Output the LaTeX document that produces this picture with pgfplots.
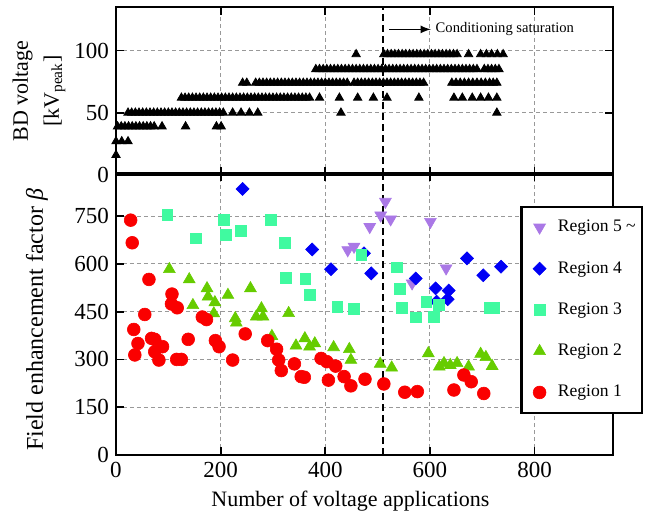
\documentclass[border=0pt]{standalone}
\usepackage{pgfplots}
\pgfplotsset{compat=1.18}
\usepackage{fontspec}
\setmainfont{Liberation Serif}

\definecolor{cR5}{RGB}{170,120,230}
\definecolor{cR4}{RGB}{0,0,245}
\definecolor{cR3}{RGB}{64,250,160}
\definecolor{cR2}{RGB}{102,204,0}
\definecolor{cR1}{RGB}{250,0,0}

\pgfplotsset{
 myaxis/.style={
  scale only axis, width=248.5pt, xmin=0, xmax=950,
  axis line style={line width=1pt},
  every tick/.style={line width=0.9pt, black},
  major tick length=4pt, tick align=inside,
  grid=major, grid style={dash pattern=on 2pt off 1.5pt, gray!80, line width=0.4pt},
  tick label style={font=\fontsize{11.5}{13}\selectfont},
  label style={font=\fontsize{11}{13}\selectfont},
  /pgf/number format/assume math mode=true,
  xtick={0,200,...,800},
  clip=false,
 },
 mk/.style={only marks, legend image code/.code={\path (0pt,0pt) (13pt,0pt); \draw[mark repeat=2,mark phase=2,##1] plot coordinates {(0pt,0pt) (6.5pt,0pt) (13pt,0pt)};}},
}

\begin{document}
\begin{tikzpicture}
% ---------------- bottom panel ----------------
\begin{axis}[myaxis, at={(0,0)}, anchor=south west, height=141pt,
  ymin=0, ymax=885, ytick={0,150,...,750},
  xlabel={Number of voltage applications},
  ylabel={Field enhancement factor \textit{β}},
  y label style={at={(axis description cs:-0.159,0.479)}, anchor=center, font=\fontsize{12}{14}\selectfont},
  x label style={xshift=-7pt},
  legend style={at={(1.0604,0.884)}, anchor=north east, draw=black, line width=1.2pt, fill=white,
    font=\fontsize{8.8}{10.5}\selectfont, row sep=9.3pt, inner xsep=2pt, inner ysep=4.6pt,
    cells={anchor=west}},
]
\addplot[mk, mark=triangle*, mark size=3.4pt, mark options={rotate=180, fill=cR5, draw=cR5, line width=0.3pt}, color=cR5]
coordinates {(443,643) (455,654) (485,716) (506,752) (515,795) (525,740) (566,539) (601,732) (631,586)};
\addlegendentry{\makebox[38pt][l]{Region 5 \textasciitilde}}
\addplot[mk, mark=square*, mark size=2.3pt, mark options={rotate=45, fill=cR4, draw=cR4, line width=0.3pt}, color=cR4]
coordinates {(242,835) (375,645) (411,583) (474,633) (488,570) (573,554) (611,523) (613,481) (634,489) (636,516) (671,617) (702,564) (736,591)};
\addlegendentry{Region 4}
\addplot[mk, mark=square*, mark size=2.7pt, mark options={fill=cR3, draw=cR3, line width=0.3pt}, color=cR3]
coordinates {(98,753) (153,680) (206,737) (210,690) (239,703) (296,737) (323,667) (324,557) (362,554) (370,504) (423,465) (454,460) (469,628) (536,589) (542,521) (547,462) (573,432) (593,481) (608,434) (617,471) (714,462) (722,463)};
\addlegendentry{Region 3}
\addplot[mk, mark=triangle*, mark size=3.4pt, mark options={fill=cR2, draw=cR2, line width=0.3pt}, color=cR2]
coordinates {(102,583) (140,551) (147,470) (174,523) (176,497) (187,444) (189,479) (214,502) (228,429) (230,415) (257,523) (268,434) (278,460) (281,434) (298,373) (330,445) (344,343) (361,366) (370,340) (380,350) (416,338) (446,332) (449,298) (505,286) (527,274) (597,319) (618,277) (627,288) (639,282) (652,288) (674,277) (697,317) (707,307) (719,279)};
\addlegendentry{Region 2}
\addplot[mk, mark=*, mark size=3.2pt, mark options={fill=cR1, draw=cR1, line width=0.3pt}, color=cR1]
coordinates {(28,737) (31,666) (34,394) (36,314) (42,350) (55,441) (63,551) (68,366) (74,363) (74,324) (82,298) (89,340) (106,474) (107,505) (116,300) (117,462) (125,300) (138,363) (165,433) (173,425) (190,359) (197,340) (223,298) (247,380) (290,359) (307,332) (311,298) (316,265) (341,286) (354,246) (360,244) (392,303) (403,293) (406,235) (420,279) (436,246) (449,217) (476,238) (512,223) (552,197) (576,199) (646,204) (665,251) (679,230) (703,193)};
\addlegendentry{Region 1}
\addplot[black, line width=1.2pt, dash pattern=on 3.5pt off 2pt, forget plot] coordinates {(510,0) (510,885)};
\end{axis}
% ---------------- top panel ----------------
\begin{axis}[myaxis, at={(0,140pt)}, anchor=south west, height=84pt,
  ymin=0, ymax=135, ytick={0,50,100}, xticklabels={},
  ylabel={BD voltage\\[2.5pt]{}[kV\textsubscript{peak}]},
  y label style={at={(axis description cs:-0.155,0.5)}, anchor=center, align=center, font=\fontsize{11}{13}\selectfont},
]
\addplot[only marks, mark=triangle*, mark size=2.4pt, black] coordinates {
(0,16)
(0,27) (11,27) (23,27)
(3,39) (10,39) (17,39) (24,39) (31,39) (38,39) (45,39) (52,39) (59,39) (66,39) (73,39) (88,39) (133,39) (192,39) (201,39)
(23,50) (30,50) (37,50) (44,50) (51,50) (58,50) (65,50) (72,50) (79,50) (86,50) (93,50) (100,50) (107,50) (114,50) (121,50) (128,50) (135,50) (142,50) (149,50) (156,50) (163,50) (170,50) (177,50) (184,50) (191,50) (198,50) (205,50) (223,50) (239,50) (255,50) (271,50) (430,50) (728,50)
(125,62) (132,62) (139,62) (146,62) (153,62) (160,62) (167,62) (174,62) (181,62) (188,62) (195,62) (202,62) (209,62) (216,62) (223,62) (230,62) (237,62) (244,62) (251,62) (258,62) (265,62) (272,62) (279,62) (286,62) (293,62) (300,62) (307,62) (314,62) (321,62) (328,62) (335,62) (342,62) (349,62) (356,62) (363,62) (370,62) (389,62) (427,62) (462,62) (492,62) (518,62) (579,62) (646,62) (662,62) (681,62) (697,62) (712,62) (728,62)
(242,74) (250,74) (267,74) (274,74) (281,74) (288,74) (295,74) (302,74) (309,74) (316,74) (323,74) (330,74) (337,74) (344,74) (351,74) (358,74) (365,74) (372,74) (379,74) (386,74) (393,74) (400,74) (407,74) (414,74) (421,74) (428,74) (435,74) (442,74) (455,74) (462,74) (469,74) (476,74) (483,74) (490,74) (497,74) (504,74) (511,74) (518,74) (525,74) (532,74) (539,74) (546,74) (553,74) (560,74) (567,74) (574,74) (581,74) (588,74) (642,74) (650,74) (658,74) (666,74) (674,74) (682,74) (690,74) (698,74) (706,74) (714,74) (721,74) (728,74)
(382,85) (389,85) (396,85) (403,85) (410,85) (417,85) (424,85) (431,85) (438,85) (445,85) (452,85) (459,85) (466,85) (473,85) (480,85) (487,85) (494,85) (501,85) (508,85) (515,85) (522,85) (529,85) (536,85) (543,85) (550,85) (557,85) (564,85) (571,85) (578,85) (585,85) (592,85) (599,85) (606,85) (613,85) (620,85) (627,85) (634,85) (641,85) (648,85) (655,85) (662,85) (669,85) (676,85) (683,85) (690,85) (704,85) (711,85) (718,85) (725,85) (732,85)
(459,97) (512,97) (519,97) (526,97) (533,97) (540,97) (547,97) (554,97) (561,97) (568,97) (575,97) (582,97) (589,97) (596,97) (603,97) (610,97) (617,97) (624,97) (631,97) (638,97) (645,97) (652,97) (674,97) (697,97) (708,97) (718,97) (729,97) (740,97)
};
\addplot[black, line width=1.2pt, dash pattern=on 3.5pt off 2pt] coordinates {(510,0) (510,135)};
\draw[-latex, line width=0.8pt] (axis cs:522,117) -- (axis cs:602,117)
  node[right, inner sep=2pt, font=\fontsize{7.3}{9}\selectfont] {Conditioning saturation};
\end{axis}
\pgfresetboundingbox
\path (-58pt,-32pt) rectangle (271pt,227.5pt);
\end{tikzpicture}
\end{document}
